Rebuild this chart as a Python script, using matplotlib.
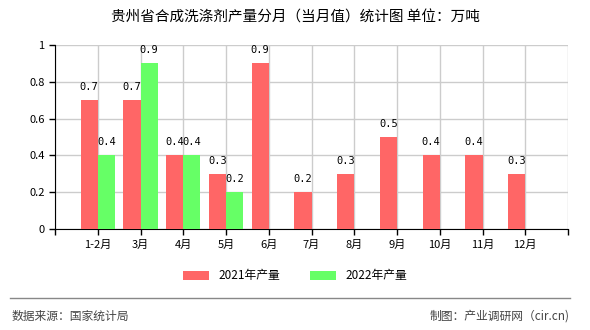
import numpy as np
import matplotlib.pyplot as plt

plt.rcParams['font.family'] = ['Noto Sans CJK SC', 'DejaVu Sans']

# Data
months = ["1-2月", "3月", "4月", "5月", "6月", "7月", "8月", "9月", "10月", "11月", "12月"]
prod_2021 = [0.7, 0.7, 0.4, 0.3, 0.9, 0.2, 0.3, 0.5, 0.4, 0.4, 0.3]
prod_2022 = [0.4, 0.9, 0.4, 0.2]

red = "#ff6666"
green = "#66ff66"

fig = plt.figure(figsize=(5.9, 3.3), dpi=100)
ax = fig.add_axes([55 / 590, 1 - 229 / 330, 513 / 590, 184 / 330])

x = np.arange(len(months))
w = 0.4
ax.bar(x - w / 2, prod_2021, w, color=red, label="2021年产量", zorder=3)
x2 = np.arange(len(prod_2022))
ax.bar(x2 + w / 2, prod_2022, w, color=green, label="2022年产量", zorder=3)

# value labels
for xi, v in zip(x, prod_2021):
    ax.text(xi - w / 2, v + 0.045, f"{v:g}", ha="center", va="bottom",
            fontsize=7.5, family="DejaVu Sans Mono", zorder=4)
for xi, v in zip(x2, prod_2022):
    ax.text(xi + w / 2, v + 0.045, f"{v:g}", ha="center", va="bottom",
            fontsize=7.5, family="DejaVu Sans Mono", zorder=4)

ax.set_xlim(-1, len(months))
ax.set_ylim(0, 1)
ax.set_yticks([0, 0.2, 0.4, 0.6, 0.8, 1])
ax.set_yticklabels(["0", "0.2", "0.4", "0.6", "0.8", "1"], fontsize=8)
ax.set_xticks(np.arange(-1, len(months) + 1))
ax.set_xticklabels([""] + months + [""], fontsize=8)
ax.tick_params(length=4, width=1, color="black")
ax.grid(True, color="#cccccc", linewidth=1, zorder=0)
ax.spines["top"].set_visible(False)
ax.spines["right"].set_visible(False)
ax.spines["left"].set_color("black")
ax.spines["bottom"].set_color("black")

fig.text(0.5, 1 - 18 / 330, "贵州省合成洗涤剂产量分月（当月值）统计图 单位：万吨",
         ha="center", va="center", fontsize=10.5)

fig.legend(loc="center", bbox_to_anchor=(0.5, 1 - 276 / 330), ncol=2,
           frameon=False, fontsize=8.5, handlelength=2.2, handleheight=0.9,
           columnspacing=2.5)

fig.add_artist(plt.Line2D([10 / 590, 570 / 590], [1 - 298 / 330, 1 - 298 / 330],
                          color="#888888", linewidth=1))
fig.text(12 / 590, 1 - 316 / 330, "数据来源：国家统计局", ha="left", va="center",
         fontsize=8.5, color="#444444")
fig.text(570 / 590, 1 - 316 / 330, "制图：产业调研网（cir.cn)", ha="right",
         va="center", fontsize=8.5, color="#444444")

fig.savefig("out.png", dpi=100)
